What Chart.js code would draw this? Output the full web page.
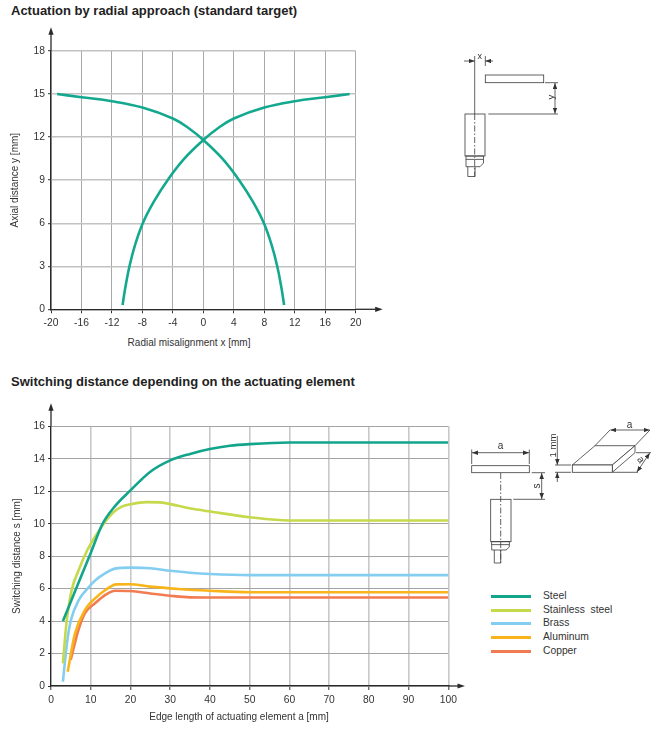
<!DOCTYPE html>
<html><head><meta charset="utf-8">
<script src="https://cdn.jsdelivr.net/npm/chart.js@4.4.1/dist/chart.umd.min.js"></script>
<style>
html,body{margin:0;padding:0;background:#fff}
body{width:660px;height:731px;position:relative;overflow:hidden;font-family:"Liberation Sans",Arial,Helvetica,sans-serif;color:#2a2a2a}
.abs{position:absolute}
.title{font-weight:bold;font-size:13px;line-height:15px;white-space:nowrap;color:#222}
.axt{font-size:10px;line-height:12px;text-align:center;white-space:nowrap;color:#333}
.leg{position:absolute;left:491px;height:12px;font-size:10.3px;line-height:12px;white-space:nowrap;color:#333}
.leg span.ln{position:absolute;left:0;top:5px;width:40px;height:3px}
.leg span.tx{position:absolute;left:52px;top:0}
svg{position:absolute;left:0;top:0}
</style></head>
<body>
<div class="abs title" style="left:11px;top:3px">Actuation by radial approach (standard target)</div>
<div class="abs title" style="left:11px;top:374px">Switching distance depending on the actuating element</div>

<canvas id="c1" class="abs" style="left:0;top:22px;width:390px;height:313px" width="390" height="313"></canvas>
<canvas id="c2" class="abs" style="left:0;top:395px;width:470px;height:320px" width="470" height="320"></canvas>

<div class="abs axt" style="left:89px;top:337px;width:200px">Radial misalignment x [mm]</div>
<div class="abs axt" style="left:119px;top:711px;width:240px">Edge length of actuating element a [mm]</div>

<div id="legend"></div>

<svg width="660" height="731" viewBox="0 0 660 731" xmlns="http://www.w3.org/2000/svg">
<defs>
<marker id="ar" viewBox="0 0 8 6" refX="8" refY="3" markerWidth="6" markerHeight="4.5" orient="auto-start-reverse" markerUnits="userSpaceOnUse">
<path d="M0,0 L8,3 L0,6 z" fill="#333"/></marker>
</defs>
<g stroke="#3a3a3a" stroke-width="0.8" fill="none">
<!-- diagram 1 -->
<line x1="474.7" y1="56" x2="474.7" y2="114"/>
<line x1="474.7" y1="114" x2="474.7" y2="177" stroke-dasharray="6 2 1.5 2"/>
<line x1="485.3" y1="56" x2="485.3" y2="66"/>
<line x1="464" y1="61" x2="474.7" y2="61" marker-end="url(#ar)"/>
<line x1="493" y1="61" x2="485.3" y2="61" marker-end="url(#ar)"/>
<rect x="485.3" y="75" width="58.4" height="7.7" fill="#fff"/>
<line x1="545" y1="82.7" x2="558" y2="82.7"/>
<line x1="488.3" y1="114" x2="558" y2="114"/>
<line x1="555" y1="83" x2="555" y2="113.7" marker-start="url(#ar)" marker-end="url(#ar)"/>
<rect x="465" y="114" width="20" height="42" fill="none"/>
<rect x="466" y="156" width="17.5" height="3.3"/>
<path d="M466,159.3 L466,166.7 L480,166.7 L483.5,163 L483.5,159.3"/>
<path d="M467.8,166.7 L467.8,176.5 L475,176.5 L475,166.7"/>
<!-- diagram 2 -->
<rect x="471.7" y="465.7" width="57.6" height="7" fill="#fff"/>
<line x1="471.7" y1="449.5" x2="471.7" y2="464"/>
<line x1="529.3" y1="449.5" x2="529.3" y2="464"/>
<line x1="472" y1="452.7" x2="529" y2="452.7" marker-start="url(#ar)" marker-end="url(#ar)"/>
<line x1="500.7" y1="473" x2="500.7" y2="563" stroke-dasharray="6 2 1.5 2"/>
<line x1="531.7" y1="472.7" x2="545" y2="472.7"/>
<line x1="513.3" y1="499.3" x2="545" y2="499.3"/>
<line x1="541.7" y1="473" x2="541.7" y2="499" marker-start="url(#ar)" marker-end="url(#ar)"/>
<rect x="490.7" y="499.3" width="20.3" height="42.4"/>
<rect x="491.7" y="541.7" width="17.6" height="3"/>
<path d="M491.7,544.7 L491.7,550 L506,550 L509.3,547 L509.3,544.7"/>
<path d="M494.3,550 L494.3,563 L500.7,563 L500.7,550"/>
<!-- plate -->
<polygon points="572.3,465 595,445.7 635,445.7 612.3,465" fill="#fff"/>
<polygon points="612.3,465 635,445.7 635,452.7 612.3,472.3" fill="#fff"/>
<rect x="572.3" y="465" width="40" height="7.3" fill="#fff"/>
<line x1="595" y1="445.7" x2="610" y2="430"/>
<line x1="635" y1="445.7" x2="650" y2="430"/>
<line x1="610.3" y1="430" x2="649.7" y2="430" marker-start="url(#ar)" marker-end="url(#ar)"/>
<line x1="636" y1="452.7" x2="651" y2="452.7"/>
<line x1="613" y1="472.3" x2="638" y2="472.3"/>
<line x1="649.8" y1="452.9" x2="636.9" y2="472.1" marker-start="url(#ar)" marker-end="url(#ar)"/>
<line x1="555" y1="465" x2="571" y2="465"/>
<line x1="555" y1="472.3" x2="571" y2="472.3"/>
<line x1="557.3" y1="436" x2="557.3" y2="465" marker-end="url(#ar)"/>
<line x1="557.3" y1="482" x2="557.3" y2="472.3" marker-end="url(#ar)"/>
</g>
<g fill="#333" font-family="Liberation Sans, Arial, sans-serif" font-size="10">
<text x="479.8" y="58.5" text-anchor="middle" font-size="9">x</text>
<text x="0" y="0" transform="translate(553.5,97) rotate(-90)" text-anchor="middle" font-size="9.5">y</text>
<text x="500.5" y="449" text-anchor="middle">a</text>
<text x="0" y="0" transform="translate(539.5,486) rotate(-90)" text-anchor="middle">s</text>
<text x="629.5" y="428" text-anchor="middle">a</text>
<text x="0" y="0" transform="translate(640.5,460) rotate(55)" text-anchor="middle" dominant-baseline="middle">a</text>
<text x="0" y="0" transform="translate(555.5,445.5) rotate(-90)" text-anchor="middle" font-size="9.5">1 mm</text>
</g>
</svg>

<script>
// ---------- Chart 1 data: Actuation by radial approach ----------
const radialTicksX = [-20, 20, 4];   // min, max, step
const axialTicksY = [0, 18, 3];
const curveA_x = [-19.2, -16, -12, -8, -4, -2, 0, 2.5, 4.7, 6.5, 7.95, 8.95, 9.7, 10.25, 10.6];
const curveA_y = [15, 14.78, 14.5, 14.06, 13.3, 12.65, 11.8, 10.5, 9, 7.5, 6, 4.5, 3, 1.5, 0.3];
const curveB_x = [-10.6, -10.25, -9.7, -8.95, -7.95, -6.5, -4.7, -2.5, 0, 2, 4, 8, 12, 16, 19.2];
const curveB_y = [0.3, 1.5, 3, 4.5, 6, 7.5, 9, 10.5, 11.8, 12.65, 13.3, 14.06, 14.5, 14.78, 15];

// ---------- Chart 2 data: Switching distance vs edge length ----------
const edgeTicksX = [0, 100, 10];
const switchTicksY = [0, 16, 2];
const materialNames = ['Steel', 'Stainless  steel', 'Brass', 'Aluminum', 'Copper'];
const materialColors = ['#13a58b', '#c6d94b', '#82cdf0', '#f8b41a', '#f27c52'];
const steel_x = [3, 6, 10, 13, 16, 20, 25, 30, 35, 40, 45, 50, 60, 100];
const steel_y = [4.0, 5.8, 8.2, 10.0, 11.05, 12.05, 13.2, 13.9, 14.3, 14.6, 14.8, 14.9, 15.0, 15.0];
const stainless_x = [3, 3.9, 5.2, 6.9, 9, 11.1, 13.6, 15.7, 17.8, 20, 24, 28, 32, 36, 40, 50, 60, 100];
const stainless_y = [1.4, 3.9, 5.9, 7.1, 8.3, 9.2, 10.1, 10.7, 11.05, 11.2, 11.33, 11.3, 11.1, 10.9, 10.75, 10.4, 10.2, 10.2];
const brass_x = [3, 4, 5, 7, 9.2, 11.1, 13.6, 16.1, 20, 25, 30, 35, 40, 50, 100];
const brass_y = [0.27, 2.6, 4.05, 5.3, 6.0, 6.5, 6.94, 7.23, 7.29, 7.25, 7.1, 6.98, 6.9, 6.83, 6.83];
const aluminum_x = [4.2, 6, 8.6, 11.1, 13.6, 16.5, 20, 25, 32, 40, 50, 100];
const aluminum_y = [0.88, 3.2, 4.7, 5.4, 5.9, 6.26, 6.27, 6.12, 5.98, 5.87, 5.78, 5.78];
const copper_x = [4.95, 6.9, 8.6, 11.1, 13.6, 16.1, 20, 25, 30, 35, 40, 100];
const copper_y = [1.6, 3.45, 4.5, 5.1, 5.6, 5.87, 5.85, 5.7, 5.56, 5.46, 5.45, 5.45];

const pts = (xs, ys) => xs.map((x, i) => ({x: x, y: ys[i]}));

Chart.defaults.font.family = '"Liberation Sans", Arial, Helvetica, sans-serif';
Chart.defaults.color = '#333';

const axisArrows = {
  id: 'axisArrows',
  afterDraw(chart, args, opts) {
    const {ctx, chartArea: {left, right, top, bottom}} = chart;
    ctx.save();
    ctx.strokeStyle = '#2a2a2a'; ctx.fillStyle = '#2a2a2a'; ctx.lineWidth = 1.3;
    ctx.beginPath(); ctx.moveTo(left, top); ctx.lineTo(left, opts.yTip + 5); ctx.stroke();
    ctx.beginPath(); ctx.moveTo(left, opts.yTip); ctx.lineTo(left - 2.6, opts.yTip + 7.5); ctx.lineTo(left + 2.6, opts.yTip + 7.5); ctx.closePath(); ctx.fill();
    ctx.beginPath(); ctx.moveTo(right, bottom); ctx.lineTo(opts.xTip - 5, bottom); ctx.stroke();
    ctx.beginPath(); ctx.moveTo(opts.xTip, bottom); ctx.lineTo(opts.xTip - 7.5, bottom - 2.6); ctx.lineTo(opts.xTip - 7.5, bottom + 2.6); ctx.closePath(); ctx.fill();
    ctx.restore();
  }
};

function lineDs(label, data, color, smooth) {
  const d = {label, data, borderColor: color, backgroundColor: color, borderWidth: 2.6,
    pointRadius: 0, pointHoverRadius: 0, fill: false};
  if (smooth === 'spline') { d.cubicInterpolationMode = 'default'; d.tension = 0.4; }
  else { d.cubicInterpolationMode = 'monotone'; }
  return d;
}

function scales(xT, yT, yTitle, xTickLen, yTitlePad, vGrid, hGrid) {
  return {
    x: {type: 'linear', min: xT[0], max: xT[1],
      ticks: {stepSize: xT[2], autoSkip: false, maxRotation: 0, padding: 4, font: {size: 10.3}, color: '#333'},
      grid: {color: vGrid.c, lineWidth: vGrid.w, tickColor: '#333', tickLength: xTickLen, tickWidth: 1},
      border: {display: true, color: '#2a2a2a', width: 1.3}},
    y: {type: 'linear', min: yT[0], max: yT[1],
      afterFit: s => { s.width = 51; },
      ticks: {stepSize: yT[2], autoSkip: false, padding: 3, font: {size: 10.3}, color: '#333'},
      grid: {color: hGrid.c, lineWidth: hGrid.w, tickColor: '#333', tickLength: 3, tickWidth: 1},
      border: {display: true, color: '#2a2a2a', width: 1.3},
      title: {display: true, text: yTitle, font: {size: 10}, color: '#333', padding: {top: yTitlePad, bottom: 0}}}
  };
}

// Chart 1
const sc1 = scales(radialTicksX, axialTicksY, 'Axial distance y [mm]', 4, 9, {c: '#a9a9a9', w: 1}, {c: '#c2c2c2', w: 1.4});
sc1.x.afterFit = s => { s.height = 25.7; };
new Chart(document.getElementById('c1'), {
  type: 'line',
  data: {datasets: [
    lineDs('Curve A', pts(curveA_x, curveA_y), '#14a88e', 'spline'),
    lineDs('Curve B', pts(curveB_x, curveB_y), '#14a88e', 'spline')
  ]},
  options: {
    responsive: false, animation: false, devicePixelRatio: 1,
    layout: {padding: {top: 29, right: 34.3, left: 0, bottom: 0}},
    scales: sc1,
    plugins: {legend: {display: false}, tooltip: {enabled: false}, axisArrows: {yTip: 5.3, xTip: 382.7}}
  },
  plugins: [axisArrows]
});

// Chart 2
const seriesX = [steel_x, stainless_x, brass_x, aluminum_x, copper_x];
const seriesY = [steel_y, stainless_y, brass_y, aluminum_y, copper_y];
const sc2 = scales(edgeTicksX, switchTicksY, 'Switching distance s [mm]', 4, 11, {c: '#c8c8c8', w: 1.6}, {c: '#a4a4a4', w: 1});
sc2.x.afterFit = s => { s.height = 29; };
new Chart(document.getElementById('c2'), {
  type: 'line',
  data: {datasets: materialNames.map((n, i) => lineDs(n, pts(seriesX[i], seriesY[i]), materialColors[i], 'monotone'))},
  options: {
    responsive: false, animation: false, devicePixelRatio: 1,
    layout: {padding: {top: 31.3, right: 21.7, left: 0, bottom: 0}},
    scales: sc2,
    plugins: {legend: {display: false}, tooltip: {enabled: false}, axisArrows: {yTip: 8.3, xTip: 465}}
  },
  plugins: [axisArrows]
});

// HTML legend for chart 2
const legendRowCenters = [596, 610, 623.5, 637.5, 651];
const legEl = document.getElementById('legend');
materialNames.forEach((n, i) => {
  const d = document.createElement('div');
  d.className = 'leg';
  d.style.top = (legendRowCenters[i] - 6.5) + 'px';
  d.innerHTML = '<span class="ln" style="background:' + materialColors[i] + '"></span><span class="tx"></span>';
  d.querySelector('.tx').textContent = n;
  d.querySelector('.tx').style.whiteSpace = 'pre';
  legEl.appendChild(d);
});
</script>
</body></html>
